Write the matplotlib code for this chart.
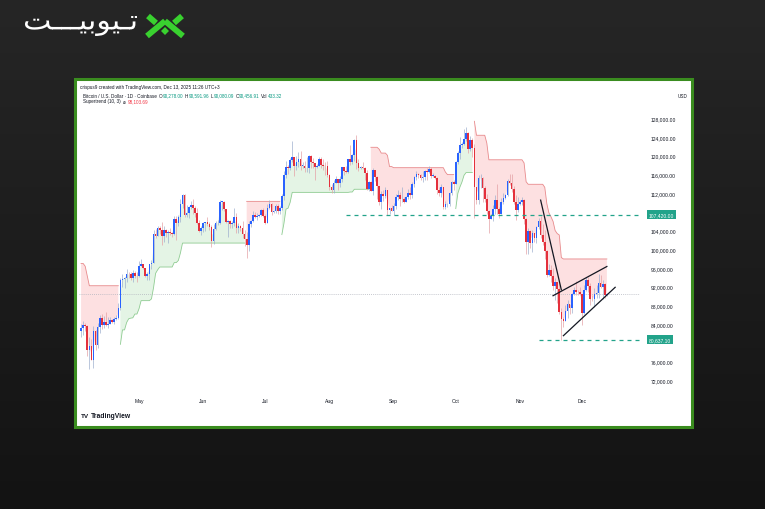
import numpy as np
import matplotlib
matplotlib.use("Agg")
import matplotlib.pyplot as plt
from matplotlib.patches import Rectangle, Polygon, PathPatch
from matplotlib.colors import LinearSegmentedColormap
from matplotlib.textpath import TextPath
from matplotlib.font_manager import FontProperties
from matplotlib.transforms import Affine2D
import matplotlib.transforms as mtransforms

# ---------------- data (prices in thousands of USD) ----------------
start_date = "2025-04-03"
first_open_k = 82.5

apr_close = [83.1, 83.8, 83.5, 78.4, 79.2, 76.3, 82.6, 79.6, 83.4, 85.3, 83.7, 84.5, 83.7, 84.0,
             84.9, 84.5, 85.1, 85.2, 87.5, 93.4, 93.7, 93.9, 94.7, 94.6, 93.8, 95.0, 94.3, 94.2]
apr_high = [83.9, 84.7, 84.2, 83.8, 81.2, 80.8, 83.5, 82.7, 84.3, 85.9, 86.1, 85.8, 86.5, 85.5,
            85.5, 85.1, 85.6, 86.0, 88.5, 93.9, 94.7, 94.0, 95.8, 95.2, 95.1, 95.5, 95.4, 95.2]
apr_low = [81.2, 81.6, 82.4, 77.2, 74.4, 76.2, 74.6, 78.4, 78.9, 82.1, 82.9, 83.2, 83.6, 83.1,
           83.9, 84.2, 84.1, 84.8, 85.1, 87.0, 91.9, 91.7, 92.9, 93.9, 93.4, 92.9, 93.8, 92.9]

may_close = [96.5, 96.9, 95.9, 94.3, 94.7, 96.8, 97.0, 103.2, 102.9, 104.6, 104.1, 102.8, 104.1, 103.5,
             103.7, 103.5, 103.2, 106.4, 105.6, 106.8, 109.6, 111.7, 107.3, 107.8, 109.0, 109.4, 108.9,
             107.8, 105.6, 103.9, 104.6]
may_high = [97.4, 97.9, 96.9, 96.0, 95.2, 96.9, 97.7, 104.0, 104.3, 104.9, 104.9, 105.8, 104.9, 104.3,
            104.1, 104.5, 103.7, 107.0, 107.1, 107.3, 110.7, 111.9, 111.8, 109.5, 109.3, 110.4, 110.7,
            109.3, 108.9, 106.3, 104.9]
may_low = [94.1, 96.3, 95.7, 94.0, 93.5, 93.4, 95.8, 97.0, 102.3, 102.8, 103.3, 100.8, 101.5, 102.6,
           101.4, 103.1, 102.6, 103.1, 102.0, 104.9, 105.9, 108.9, 106.8, 106.9, 106.6, 108.7, 107.5,
           106.8, 105.3, 103.6, 103.1]

jun_close = [105.7, 105.8, 105.4, 104.7, 101.8, 104.4, 105.6, 105.7, 110.2, 110.2, 108.6, 105.9, 106.0,
             105.4, 105.5, 106.8, 104.6, 104.9, 104.6, 103.3, 102.1, 100.9, 105.4, 106.0, 107.3, 106.9,
             107.1, 107.3, 108.3, 107.1]
jun_high = [105.9, 105.9, 106.8, 105.9, 105.1, 105.4, 106.0, 106.3, 110.6, 110.4, 110.4, 108.7, 106.2,
            106.2, 106.0, 108.9, 107.7, 105.6, 105.2, 106.1, 104.2, 103.6, 106.1, 106.3, 108.1, 108.0,
            107.7, 107.6, 108.5, 108.8]
jun_low = [103.7, 103.8, 104.9, 104.2, 100.4, 101.1, 104.0, 105.1, 105.3, 108.4, 108.1, 105.7, 102.7,
           104.5, 104.6, 105.0, 103.4, 103.5, 103.9, 102.4, 100.6, 98.2, 99.6, 104.7, 105.9, 106.6,
           106.3, 106.9, 107.2, 106.8]

jul_close = [105.7, 108.8, 109.6, 108.0, 108.2, 109.2, 108.2, 108.9, 111.3, 115.9, 117.5, 117.4, 119.1,
             119.8, 117.7, 118.7, 119.3, 117.9, 117.9, 117.3, 117.4, 119.9, 118.6, 118.4, 117.6, 117.9,
             119.4, 118.0, 117.9, 117.8, 115.8]
jul_high = [107.5, 109.7, 110.5, 109.8, 108.4, 109.7, 109.7, 109.2, 111.9, 116.8, 118.9, 118.0, 119.5,
            123.2, 119.8, 120.0, 120.8, 120.9, 118.6, 118.9, 119.7, 120.2, 120.1, 119.5, 118.4, 118.3,
            119.8, 119.8, 119.3, 118.7, 118.9]
jul_low = [105.3, 105.6, 108.6, 107.3, 107.8, 107.8, 107.5, 107.5, 108.4, 110.6, 115.2, 116.0, 116.9,
           118.6, 115.7, 116.9, 117.5, 116.9, 117.3, 116.5, 116.6, 116.2, 117.3, 117.4, 114.7, 117.4,
           117.8, 117.4, 116.9, 115.8, 115.5]

aug_close = [113.3, 112.6, 114.2, 115.0, 114.1, 115.0, 117.5, 116.7, 116.5, 119.3, 118.7, 120.2, 123.3,
             118.4, 117.4, 117.5, 117.4, 116.3, 112.9, 114.3, 112.5, 116.9, 115.4, 113.5, 110.1, 111.8,
             111.3, 112.6, 108.4, 108.8, 108.2]
aug_high = [116.1, 114.0, 114.7, 115.7, 115.1, 115.6, 117.6, 117.6, 117.9, 119.3, 122.3, 120.3, 123.6,
            124.4, 119.2, 117.9, 118.6, 117.6, 117.0, 114.6, 114.5, 117.4, 117.0, 115.6, 113.6, 112.4,
            112.6, 113.4, 112.6, 108.9, 109.5]
aug_low = [112.7, 112.0, 112.1, 114.1, 112.7, 113.4, 114.3, 115.9, 116.3, 116.4, 118.1, 118.2, 118.9,
           117.2, 116.8, 117.2, 117.2, 114.7, 112.7, 112.4, 112.4, 111.7, 114.5, 110.8, 109.4, 108.7,
           110.4, 110.9, 107.4, 107.5, 108.1]

sep_close = [109.2, 111.2, 111.7, 110.7, 110.7, 110.2, 111.1, 112.1, 111.5, 113.9, 115.5, 116.1, 115.9,
             115.3, 115.4, 116.8, 116.5, 117.1, 115.7, 115.7, 115.3, 112.7, 112.0, 113.3, 109.0, 109.6,
             109.7, 112.1, 114.4, 114.0]
sep_high = [109.9, 111.8, 112.6, 112.2, 113.4, 111.2, 111.3, 112.9, 113.2, 114.3, 115.6, 116.7, 116.4,
            116.1, 116.8, 117.0, 117.3, 117.9, 117.5, 116.2, 115.8, 115.4, 113.3, 113.9, 113.4, 110.3,
            109.8, 112.3, 114.5, 114.8]
sep_low = [107.3, 108.6, 110.6, 109.3, 110.0, 109.9, 110.0, 110.7, 110.8, 110.9, 113.4, 114.8, 115.3,
           114.8, 114.4, 114.8, 114.8, 116.4, 115.2, 115.5, 115.1, 111.9, 111.4, 111.1, 108.6, 108.7,
           109.1, 109.3, 111.6, 112.7]

oct_close = [118.6, 120.6, 122.3, 122.4, 123.5, 124.8, 121.4, 123.3, 121.7, 113.2, 110.6, 115.2, 115.3,
             113.0, 110.8, 108.2, 106.5, 107.2, 108.7, 110.6, 108.5, 107.6, 110.1, 111.0, 111.6, 114.5,
             114.1, 112.9, 110.0, 108.3, 109.6]
oct_high = [118.8, 121.0, 123.9, 122.9, 125.7, 126.2, 125.1, 124.2, 123.7, 122.6, 113.4, 115.8, 116.0,
            115.4, 113.6, 111.9, 108.4, 107.5, 109.5, 111.7, 114.0, 109.1, 111.0, 112.0, 111.9, 115.0,
            116.1, 116.0, 113.6, 111.6, 111.2]
oct_low = [113.9, 118.3, 119.3, 121.6, 122.2, 123.1, 120.6, 121.1, 119.7, 106.6, 109.6, 109.7, 113.0,
           110.0, 110.2, 107.5, 103.5, 106.4, 106.1, 107.5, 107.5, 106.7, 107.5, 109.7, 110.8, 111.3,
           113.8, 112.2, 109.7, 106.3, 108.0]

nov_close = [110.1, 110.6, 106.5, 101.6, 103.9, 101.3, 103.4, 102.3, 104.7, 106.0, 103.0, 101.6, 99.7,
             94.5, 95.6, 94.2, 92.2, 92.9, 91.5, 86.6, 85.1, 84.7, 86.8, 88.3, 87.4, 90.5, 91.3, 90.9,
             90.8, 90.4]
nov_high = [110.6, 111.2, 110.8, 106.6, 104.5, 104.2, 104.0, 103.4, 105.0, 106.6, 107.0, 105.3, 104.0,
            99.9, 96.8, 96.6, 96.0, 93.8, 93.0, 93.1, 87.5, 85.6, 88.0, 89.2, 88.3, 90.6, 91.9, 93.1,
            91.2, 91.9]
nov_low = [109.4, 109.5, 105.3, 98.9, 98.9, 100.3, 99.3, 101.5, 101.3, 104.3, 102.5, 100.8, 98.0,
           94.0, 94.2, 93.0, 91.2, 89.2, 88.5, 86.1, 80.6, 83.4, 84.6, 85.3, 86.1, 86.3, 90.1, 90.2,
           90.3, 90.3]

dec_close = [86.3, 91.3, 93.5, 92.1, 89.4, 89.3, 90.4, 90.6, 92.7, 92.0, 92.5, 90.278, 90.45691]
dec_high = [90.4, 92.3, 94.1, 94.0, 92.7, 90.3, 91.7, 92.3, 94.6, 94.5, 93.5, 92.8, 90.59196]
dec_low = [83.8, 86.2, 91.0, 90.9, 88.1, 88.9, 87.7, 89.6, 89.6, 91.6, 89.3, 89.5, 90.08009]

last_volume = 433.32
supertrend_label_value = 98103.69

month_labels = ["May", "Jun", "Jul", "Aug", "Sep", "Oct", "Nov", "Dec"]
month_starts = ["2025-05-01", "2025-06-01", "2025-07-01", "2025-08-01", "2025-09-01",
                "2025-10-01", "2025-11-01", "2025-12-01"]
price_ticks = [128000, 124000, 120000, 116000, 112000, 104000, 100000, 96000, 92000,
               88000, 84000, 76000, 72000]

# user drawings
level_hi = 107420.00
level_hi_from = "2025-08-09"
level_lo = 80637.10
level_lo_from = "2025-11-10"
trend_a_dates = ["2025-11-11", "2025-11-21"]
trend_a_prices = [110500, 91300]
wedge_top_dates = ["2025-11-17", "2025-12-13"]
wedge_top_prices = [90050, 96300]
wedge_bot_dates = ["2025-11-22", "2025-12-17"]
wedge_bot_prices = [81500, 91850]

# ---------------- assemble ----------------
close = np.array(apr_close + may_close + jun_close + jul_close + aug_close + sep_close +
                 oct_close + nov_close + dec_close) * 1000
high = np.array(apr_high + may_high + jun_high + jul_high + aug_high + sep_high +
                oct_high + nov_high + dec_high) * 1000
low = np.array(apr_low + may_low + jun_low + jul_low + aug_low + sep_low +
               oct_low + nov_low + dec_low) * 1000
n = len(close)
opn = np.r_[first_open_k * 1000, close[:-1]]

d0 = np.datetime64(start_date)
def didx(s):
    return float((np.datetime64(s) - d0).astype(int))
x = np.arange(n)

# Supertrend (10, 3), TradingView style
tr = np.empty(n)
tr[0] = high[0] - low[0]
for i in range(1, n):
    tr[i] = max(high[i] - low[i], abs(high[i] - close[i - 1]), abs(low[i] - close[i - 1]))
atr = np.empty(n)
atr[0] = tr[:10].mean()
for i in range(1, n):
    atr[i] = (atr[i - 1] * 9 + tr[i]) / 10
hl2 = (high + low) / 2
up_b = hl2 + 3 * atr
lo_b = hl2 - 3 * atr
st = np.empty(n)
dirn = np.empty(n)
st[0] = up_b[0]
dirn[0] = 1
for i in range(1, n):
    if not (lo_b[i] > lo_b[i - 1] or close[i - 1] < lo_b[i - 1]):
        lo_b[i] = lo_b[i - 1]
    if not (up_b[i] < up_b[i - 1] or close[i - 1] > up_b[i - 1]):
        up_b[i] = up_b[i - 1]
    if dirn[i - 1] == 1:
        dirn[i] = -1 if close[i] > up_b[i] else 1
    else:
        dirn[i] = 1 if close[i] < lo_b[i] else -1
    st[i] = lo_b[i] if dirn[i] == -1 else up_b[i]
body_mid = (opn + close) / 2

# ---------------- figure ----------------
W, H = 765, 510
plt.rcParams['font.family'] = ['Liberation Sans', 'DejaVu Sans']
fig = plt.figure(figsize=(W / 100, H / 100), dpi=100)

def fx(v):
    return v / W
def fy(v):
    return 1 - v / H

bg = fig.add_axes([0, 0, 1, 1], zorder=-10)
grad = np.linspace(0, 1, 256).reshape(-1, 1)
bg.imshow(grad, aspect='auto', cmap=LinearSegmentedColormap.from_list('bg', ['#262626', '#131313']),
          extent=[0, 1, 0, 1], origin='upper')
bg.set_xlim(0, 1)
bg.set_ylim(0, 1)
bg.set_axis_off()

bg.add_patch(Rectangle((fx(75), fy(428)), fx(692) - fx(75), fy(80) - fy(428), transform=bg.transAxes,
                       facecolor='white', edgecolor='#3a8c1f', linewidth=2.2, zorder=2))

# logo: Persian word fitted into its box, plus green mark
logo_word = "\uFE96\u0640\u0640\u0640\uFEF4\uFE91\uFEEE\uFEF4\u0640\uFE97"
tp = TextPath((0, 0), logo_word, size=10, prop=FontProperties(family='DejaVu Sans'))
bb = tp.get_extents()
bx0, bx1, by0, by1 = 25, 137, 17, 37
sx = (fx(bx1) - fx(bx0)) / bb.width
sy = (fy(by0) - fy(by1)) / bb.height
ttr = Affine2D().translate(-bb.x0, -bb.y0).scale(sx, sy).translate(fx(bx0), fy(by1)) + bg.transAxes
bg.add_patch(PathPatch(tp, transform=ttr, facecolor='white', edgecolor='none', zorder=3))

g = '#39d12f'
for (xa, ya, xb, yb) in [(148, 17, 156, 24), (182, 17, 174, 24), (147, 37, 165, 22), (183, 37, 165, 22)]:
    bg.plot([fx(xa), fx(xb)], [fy(ya), fy(yb)], color=g, lw=4.2, solid_capstyle='butt',
            transform=bg.transAxes, zorder=3)
bg.add_patch(Polygon([(fx(165), fy(28)), (fx(169), fy(32)), (fx(165), fy(36)), (fx(161), fy(32))],
                     closed=True, facecolor=g, edgecolor='none', transform=bg.transAxes, zorder=3))

# header texts
hfs = 3.3
ink = '#131722'
bg.text(fx(80), fy(89.5), "crispus9 created with TradingView.com, Dec 13, 2025 11:26 UTC+3",
        fontsize=hfs, color=ink, va='bottom', transform=bg.transAxes, zorder=5)

def chain(parts, x0, y0, fs):
    prev = bg.text(fx(x0), fy(y0), parts[0][0], fontsize=fs, color=parts[0][1], va='bottom',
                   transform=bg.transAxes, zorder=5)
    for s, col, gap in parts[1:]:
        prev = bg.annotate(s, xy=(1, 0), xycoords=prev, xytext=(gap, 0), textcoords='offset points',
                           fontsize=fs, color=col, va='bottom', ha='left', zorder=5)

teal = '#089981'
red = '#f23645'
chain([("Bitcoin / U.S. Dollar · 1D · Coinbase", ink),
       ("O", ink, 1.5), (f"{opn[-1]:,.2f}", teal, 0.1),
       ("H", ink, 1.2), (f"{high[-1]:,.2f}", teal, 0.1),
       ("L", ink, 1.2), (f"{low[-1]:,.2f}", teal, 0.1),
       ("C", ink, 1.2), (f"{close[-1]:,.2f}", teal, 0.1),
       ("Vol", ink, 1.2), (f"{last_volume:,.2f}", teal, 0.1)], 83, 98.5, hfs)
chain([("Supertrend (10, 3)", ink), ("\u2300", ink, 1.5),
       (f"{supertrend_label_value:,.2f}", red, 1.5)], 83, 104.5, hfs)
bg.text(fx(683), fy(97), "USD", fontsize=3.3, color=ink, ha='center', va='center',
        transform=bg.transAxes, zorder=5)

# TradingView logo
bg.text(fx(81), fy(417), "TV", fontsize=4.6, fontweight='bold', color=ink, va='center',
        transform=bg.transAxes, zorder=5)
bg.text(fx(90.5), fy(417), "TradingView", fontsize=4.9, fontweight='bold', color=ink, va='center',
        transform=bg.transAxes, zorder=5)

# ---------------- chart axes ----------------
ax = fig.add_axes([fx(79), fy(392), fx(640) - fx(79), fy(105) - fy(392)])
ax.set_facecolor('none')
ax.set_xlim(-1, 270)
ax.set_ylim(69668, 131059)
for s in ax.spines.values():
    s.set_visible(False)

up_mask = dirn == -1
dn_mask = dirn == 1
ax.fill_between(x, body_mid, st, where=dn_mask, color='#fde0e1', lw=0, zorder=1)
ax.fill_between(x, body_mid, st, where=up_mask, color='#e4f4e5', lw=0, zorder=1)
ax.plot(x, np.where(dn_mask, st, np.nan), color='#e88a8c', lw=0.6, zorder=2)
ax.plot(x, np.where(up_mask, st, np.nan), color='#8fcc92', lw=0.6, zorder=2)

is_up = close >= opn
body_col = np.where(is_up, '#2962ff', '#e4303c')
wick_col = np.where(is_up, '#9fb0cf', '#e4a2a6')
ax.vlines(x, low, high, colors=wick_col, lw=0.5, zorder=3)
ax.bar(x, np.maximum(np.abs(close - opn), 80), bottom=np.minimum(opn, close), width=0.8,
       color=body_col, lw=0, zorder=4)

ax.axhline(close[-1], color='#b2b5be', lw=0.6, ls=(0, (1, 1.5)), zorder=2)

lvl_col = '#22a38a'
ax.plot([didx(level_hi_from), 270], [level_hi, level_hi], color=lvl_col, lw=0.9, ls=(0, (3.2, 3.2)), zorder=5)
ax.plot([didx(level_lo_from), 270], [level_lo, level_lo], color=lvl_col, lw=0.9, ls=(0, (3.2, 3.2)), zorder=5)

for ds, ps in [(trend_a_dates, trend_a_prices), (wedge_top_dates, wedge_top_prices),
               (wedge_bot_dates, wedge_bot_prices)]:
    ax.plot([didx(d) for d in ds], ps, color=ink, lw=0.9, zorder=6)

ax.set_xticks([didx(d) for d in month_starts])
ax.set_xticklabels(month_labels)
ax.tick_params(axis='x', length=0, pad=5.0, labelsize=3.6, labelcolor=ink)
ax.yaxis.tick_right()
ax.set_yticks(price_ticks)
ax.set_yticklabels([f"{v:,.2f}" for v in price_ticks])
ax.tick_params(axis='y', length=0, pad=8.0, labelsize=3.6, labelcolor=ink)

trans = mtransforms.blended_transform_factory(ax.transAxes, ax.transData)
for lv in (level_hi, level_lo):
    ax.text(1.0155, lv, f"{lv:,.2f}", transform=trans, fontsize=3.6, color='white', va='center', ha='left',
            bbox=dict(boxstyle='square,pad=0.35', facecolor=lvl_col, edgecolor='none'), zorder=7)

fig.savefig("out.png", dpi=100)
